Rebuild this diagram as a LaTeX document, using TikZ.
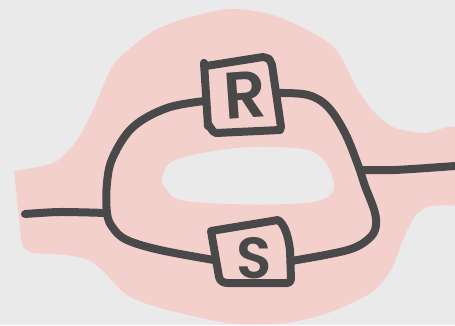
\documentclass[tikz,border=0pt]{standalone}
\usepackage{fontspec}
\setmainfont{Poppins}
\newfontfamily\handfont{Poppins SemiBold}
\definecolor{bgc}{HTML}{EAEAEA}
\definecolor{blob}{HTML}{F4D0CD}
\definecolor{ink}{HTML}{494949}
\tikzset{
  wire/.style={draw=ink,line width=8pt,line cap=round,line join=round},
  letter/.style={text=ink,inner sep=0pt,font=\handfont\fontsize{66}{66}\selectfont},
}
\begin{document}
\begin{tikzpicture}[x=1pt,y=-1pt]
\useasboundingbox (0,0) rectangle (455,325);
\fill[bgc] (0,0) rectangle (455,325);
% pink region with hole
\fill[blob,even odd rule]
  plot[smooth,tension=0.45] coordinates {
    (14,171) (37,167) (57,161) (77,140) (93,110) (107,77) (117,60) (150,33) (180,20) (228,9)
    (265,13) (291,22) (325,40) (340,55) (358,90) (375,113) (395,128) (425,133) (448,127) (470,127)}
  -- plot[smooth,tension=0.45] coordinates {
    (470,206) (431,206) (415,216) (403,240) (391,270) (371,293) (328,313) (285,323) (228,323)
    (160,308) (127,295) (103,271) (90,261) (67,255) (33,253) (22,246)}
  -- cycle
  plot[smooth cycle,tension=0.6] coordinates {
    (228,149) (268,147) (308,150) (326,163) (334,188) (321,200) (288,204) (228,204)
    (180,200) (167,190) (162,178) (175,160)};
% named junctions and ports
\coordinate (in) at (25,214);
\coordinate (j1) at (106,213);
\coordinate (rw) at (205,101);
\coordinate (re) at (279,93);
\coordinate (sw) at (214,260);
\coordinate (se) at (291,261);
\coordinate (j2) at (360,170);
\coordinate (out) at (455,166);
% boxes
\draw[wire] plot[smooth,tension=0.3] coordinates {(263,57) (269,59) (272,65)} -- (281,127) -- (280,130) -- (216,133) to[out=180,in=80] (208,126) -- (204,63) -- (206,66) -- cycle;
\draw[wire] (211,231) -- (278,220) .. controls (284,224) and (288,234) .. (290,250) -- (291,279) .. controls (291,282) and (289,283) .. (287,283) -- (228,283) .. controls (223,283) and (220,281) .. (219,277) -- cycle;
\node[letter,rotate=4] (R) at (245,95) {R};
\node[letter,font=\handfont\fontsize{58}{58}\selectfont] (S) at (254,258) {S};
% connectors
\draw[wire] plot[smooth,tension=0.5] coordinates {(in) (60,212) (j1)};
\draw[wire] plot[smooth,tension=0.6] coordinates {(rw) (167,108) (133,127) (113,157) (107,183) (107,213) (113,228) (127,240) (160,250) (sw)};
\draw[wire] plot[smooth,tension=0.6] coordinates {(re) (308,95) (328,107) (345,133) (358,165) (365,186) (375,213) (375,230) (366,241) (351,249) (325,255) (se)};
\draw[wire,line cap=butt] plot[smooth,tension=0.5] coordinates {(j2) (395,170) (out)};
\end{tikzpicture}
\end{document}
